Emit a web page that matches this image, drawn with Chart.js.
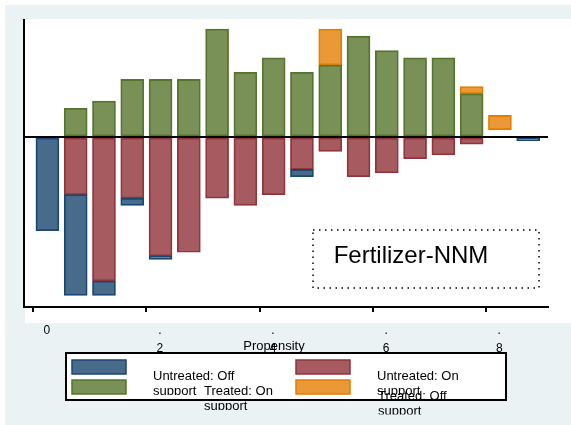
<!doctype html>
<html lang="en">
<head>
<meta charset="utf-8">
<title>Fertilizer-NNM</title>
<script src="https://cdn.jsdelivr.net/npm/chart.js@4.4.0/dist/chart.umd.min.js"></script>
<style>
  html, body { margin: 0; padding: 0; background: #fff; }
  #chartx { width: 571px; height: 425px; }
</style>
</head>
<body>
<div id="chartx"><canvas id="myChart" width="571" height="425"></canvas></div>

<script>
// propensity bins (centres, width .05)
const binCenters = [0.025, 0.075, 0.125, 0.175, 0.225, 0.275, 0.325, 0.375, 0.425,
                    0.475, 0.525, 0.575, 0.625, 0.675, 0.725, 0.775, 0.825, 0.875];

// untreated are drawn below zero
const untreatedOn  = [0, 16, 40, 17, 33, 32, 17, 19, 16, 9, 4, 11, 10, 6, 5, 2, 0, 0];
const untreatedOff = [26, 28, 4, 2, 1, 0, 0, 0, 0, 2, 0, 0, 0, 0, 0, 0, 0, 1];
// treated are drawn above zero
const treatedOn    = [0, 8, 10, 16, 16, 16, 30, 18, 22, 18, 20, 28, 24, 22, 22, 12, 0, 0];
const treatedOffLow  = [null, null, null, null, null, null, null, null, null, null, 20, null, null, null, null, 12, 2, null];
const treatedOffHigh = [null, null, null, null, null, null, null, null, null, null, 30, null, null, null, null, 14, 6, null];

const xTicks = [0, 0.2, 0.4, 0.6, 0.8];
const xTickText = ['0', '.2', '.4', '.6', '.8'];
const xTitle = 'Propensity';
const noteText = 'Fertilizer-NNM';

const FONT = '"Liberation Sans", Arial, Helvetica, sans-serif';

function ranges(lo, hi) {
  const out = [];
  binCenters.forEach((x, i) => {
    if (lo[i] === null || hi[i] === null || lo[i] === hi[i]) return;
    out.push({ x: x, y: [lo[i], hi[i]] });
  });
  return out;
}

const zeros = binCenters.map(() => 0);

const data = {
  datasets: [{
    label: 'Untreated: Off support',
    backgroundColor: 'rgb(72, 107, 140)',
    borderColor: 'rgb(26, 71, 111)',
    data: ranges(untreatedOn.map(v => -v), untreatedOn.map((v, i) => -(v + untreatedOff[i]))),
  },
  {
    label: 'Untreated: On support',
    backgroundColor: 'rgb(166, 91, 96)',
    borderColor: 'rgb(144, 53, 59)',
    data: ranges(zeros, untreatedOn.map(v => -v)),
  },
  {
    label: 'Treated: On support',
    backgroundColor: 'rgb(121, 145, 86)',
    borderColor: 'rgb(85, 117, 47)',
    data: ranges(zeros, treatedOn),
  },
  {
    label: 'Treated: Off support',
    backgroundColor: 'rgb(235, 153, 54)',
    borderColor: 'rgb(227, 126, 0)',
    data: ranges(treatedOffLow, treatedOffHigh),
  }]
};

// Stata-like grey page with white plot region
const background = {
  id: 'background',
  beforeDraw(chart) {
    const ctx = chart.ctx;
    ctx.save();
    ctx.fillStyle = '#ffffff';
    ctx.fillRect(0, 0, chart.width, chart.height);
    ctx.fillStyle = '#eaf2f3';
    ctx.fillRect(5, 5, chart.width - 5, chart.height - 5);
    ctx.fillStyle = '#ffffff';
    ctx.fillRect(25, 19, chart.width - 25, 304);
    ctx.restore();
  }
};

// axis title, note box and the (cramped) legend
const extras = {
  id: 'extras',
  afterDraw(chart) {
    const ctx = chart.ctx;
    ctx.save();
    ctx.fillStyle = '#000';
    ctx.textBaseline = 'alphabetic';

    ctx.font = '13px ' + FONT;
    ctx.textAlign = 'center';
    ctx.fillText(xTitle, 274, 350);

    // note
    ctx.strokeStyle = '#000';
    ctx.lineWidth = 1.5;
    ctx.setLineDash([1.5, 4.5]);
    ctx.strokeRect(313, 230, 226, 58);
    ctx.setLineDash([]);
    ctx.font = '24px ' + FONT;
    ctx.fillText(noteText, 411, 263);

    // legend
    ctx.fillStyle = '#fff';
    ctx.fillRect(66, 353, 440, 47);
    ctx.lineWidth = 2;
    ctx.strokeRect(66, 353, 440, 47);

    const keys = [
      { key: [72, 360], text: [153, 380] },
      { key: [296, 360], text: [377, 380] },
      { key: [72, 380], text: [204, 395] },
      { key: [296, 380], text: [378, 399.5] }
    ];
    ctx.textAlign = 'left';
    ctx.font = '13px ' + FONT;
    chart.data.datasets.forEach((ds, i) => {
      const k = keys[i];
      ctx.fillStyle = ds.backgroundColor;
      ctx.strokeStyle = ds.borderColor;
      ctx.lineWidth = 1.5;
      ctx.fillRect(k.key[0], k.key[1], 54, 14);
      ctx.strokeRect(k.key[0], k.key[1], 54, 14);

      const cut = ds.label.lastIndexOf(' ');
      const lines = [ds.label.slice(0, cut), ds.label.slice(cut + 1)];
      ctx.save();
      ctx.beginPath();
      ctx.rect(k.text[0] - 2, k.text[1] - 16, 160, 31);
      ctx.clip();
      ctx.fillStyle = '#000';
      lines.forEach((t, j) => ctx.fillText(t, k.text[0], k.text[1] + j * 15));
      ctx.restore();
    });
    ctx.restore();
  }
};

const config = {
  type: 'bar',
  data: data,
  options: {
    responsive: false,
    animation: false,
    layout: { padding: { left: 0, top: 20, right: 23, bottom: 0 } },
    datasets: {
      bar: { barThickness: 23, grouped: false, borderSkipped: false, borderWidth: 1.8 }
    },
    scales: {
      x: {
        type: 'linear',
        min: -0.0164,
        max: 0.910,
        offset: false,
        afterBuildTicks: axis => { axis.ticks = xTicks.map(v => ({ value: v })); },
        afterFit: axis => { axis.height = 118; },
        grid: { drawOnChartArea: false, drawTicks: true, tickLength: 5, color: '#000', lineWidth: 2, offset: false },
        border: { display: true, color: '#000', width: 2 },
        ticks: {
          color: '#000',
          font: { family: FONT, size: 12, lineHeight: 1.5 },
          padding: 10,
          labelOffset: 13.5,
          maxRotation: 0,
          autoSkip: false,
          callback: function (value) {
            const t = xTickText[xTicks.indexOf(value)];
            return t.startsWith('.') ? ['.', t.slice(1)] : t;
          }
        }
      },
      y: {
        min: -47.2,
        max: 32.5,
        afterBuildTicks: axis => { axis.ticks = [{ value: 0 }]; },
        afterFit: axis => { axis.width = 24; },
        grid: { drawTicks: false, color: '#000', lineWidth: 2 },
        border: { display: true, color: '#000', width: 2 },
        ticks: { display: false }
      }
    },
    plugins: {
      legend: { display: false },
      tooltip: { enabled: false }
    }
  },
  plugins: [background, extras]
};

const myChart = new Chart(document.getElementById('myChart'), config);
</script>
</body>
</html>
